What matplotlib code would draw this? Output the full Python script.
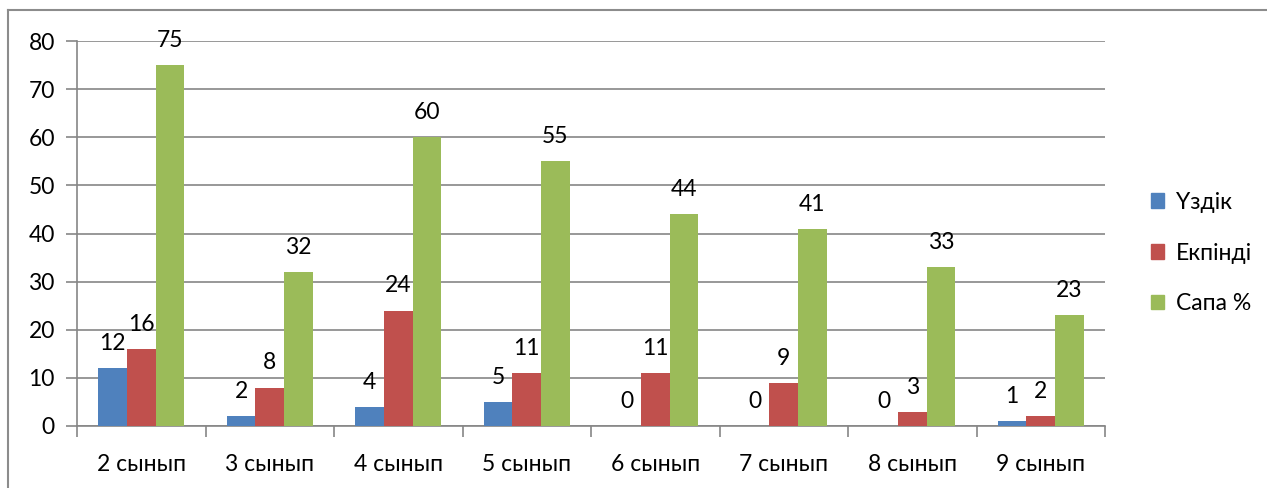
import numpy as np
import matplotlib.pyplot as plt
from matplotlib.patches import Patch
from matplotlib.lines import Line2D

plt.rcParams['font.family'] = ['Lato', 'DejaVu Sans']

categories = ['2 сынып', '3 сынып', '4 сынып', '5 сынып', '6 сынып', '7 сынып', '8 сынып', '9 сынып']
uzdik = [12, 2, 4, 5, 0, 0, 0, 1]
ekpindi = [16, 8, 24, 11, 11, 9, 3, 2]
sapa = [75, 32, 60, 55, 44, 41, 33, 23]
series_names = ['Үздік', 'Екпінді', 'Сапа %']
colors = ['#4f81bd', '#c0504d', '#9bbb59']
grid_col = '#868686'
fs = 16.5

fig = plt.figure(figsize=(12.67, 4.88), dpi=100)
ax = fig.add_axes([77 / 1267, 1 - 426 / 488, (1105 - 77) / 1267, (426 - 41) / 488])

x = np.arange(len(categories))
w = 1 / 4.5
for i, (vals, col) in enumerate(zip([uzdik, ekpindi, sapa], colors)):
    pos = x + (i - 1) * w
    ax.bar(pos, vals, width=w, color=col, zorder=3)
    for px, v in zip(pos, vals):
        ax.annotate(str(v), (px, v), xytext=(0, 13), textcoords='offset points',
                    ha='center', va='baseline', fontsize=fs, zorder=4)

ax.set_xlim(-0.5, len(categories) - 0.5)
ax.set_ylim(0, 80)
ax.set_yticks(range(0, 81, 10))
ax.yaxis.grid(True, color=grid_col, linewidth=1.2, zorder=0)
ax.set_xticks(x)
ax.set_xticklabels(categories, fontsize=fs)
ax.set_xticks(np.arange(-0.5, len(categories)), minor=True)
ax.tick_params(axis='x', which='major', length=0, pad=20)
ax.tick_params(axis='x', which='minor', length=8, color=grid_col, width=1.2)
ax.tick_params(axis='y', length=8, color=grid_col, width=1.2, labelsize=fs, pad=8)
for s in ['top', 'right']:
    ax.spines[s].set_visible(False)
for s in ['left', 'bottom']:
    ax.spines[s].set_color(grid_col)
    ax.spines[s].set_linewidth(1.2)

handles = [Patch(facecolor=c, edgecolor=c) for c in colors]
fig.legend(handles, series_names, loc='center left', bbox_to_anchor=(1130 / 1267, 1 - 253 / 488),
           frameon=False, fontsize=fs, handlelength=0.6, handleheight=0.6,
           handletextpad=0.5, labelspacing=1.3)

# outer chart border (top and left visible)
fig.add_artist(Line2D([8 / 1267, 8 / 1267], [0, 1 - 10 / 488], color='#8c8c8c', linewidth=1.5))
fig.add_artist(Line2D([8 / 1267, 1], [1 - 10 / 488, 1 - 10 / 488], color='#8c8c8c', linewidth=1.5))

fig.savefig('out.png', dpi=100)
